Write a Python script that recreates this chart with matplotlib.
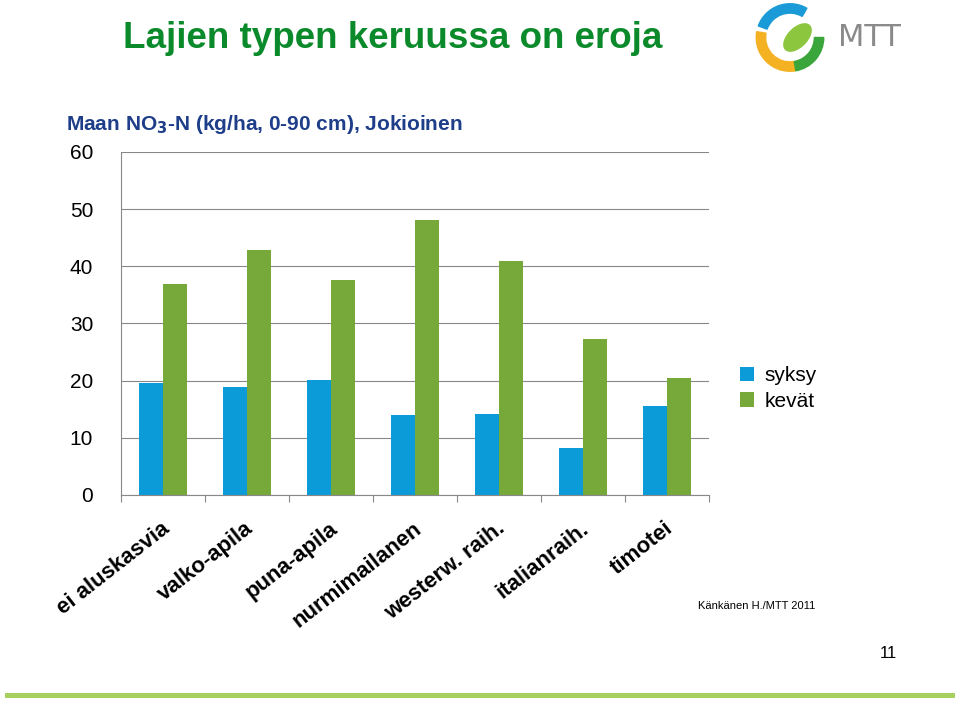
import matplotlib
matplotlib.use("Agg")
import matplotlib.pyplot as plt
from matplotlib.patches import Wedge, Ellipse
import numpy as np

categories = ["ei aluskasvia", "valko-apila", "puna-apila", "nurmimailanen",
              "westerw. raih.", "italianraih.", "timotei"]
syksy = [19.6, 18.9, 20.1, 14.0, 14.2, 8.2, 15.6]
kevat = [36.9, 42.9, 37.6, 48.1, 40.9, 27.3, 20.5]
yticks = [0, 10, 20, 30, 40, 50, 60]

W, H = 960, 701
fig = plt.figure(figsize=(W/100, H/100), dpi=100)
fig.patch.set_facecolor("white")
ax = fig.add_axes([121/W, 1-495/H, (709-121)/W, (495-152)/H])
x = np.arange(len(categories))
bw = 0.28
ax.bar(x - bw/2, syksy, bw, color="#0b9bd9", label="syksy")
ax.bar(x + bw/2, kevat, bw, color="#77a83a", label="kevät")
ax.set_xlim(-0.5, len(categories)-0.5)
ax.set_ylim(0, 60)
ax.set_yticks(yticks)
ax.set_yticklabels([str(t) for t in yticks], fontsize=15, fontfamily="Liberation Sans")
ax.yaxis.grid(True, color="#888888", lw=0.8)
ax.set_axisbelow(True)
for s in ["top", "right"]:
    ax.spines[s].set_visible(False)
ax.spines["left"].set_color("#888888")
ax.spines["bottom"].set_color("#888888")
ax.tick_params(axis="y", length=0, pad=20)
ax.set_xticks(np.arange(-0.5, len(categories), 1))
ax.set_xticklabels([])
ax.tick_params(axis="x", length=5, color="#888888", direction="out")
for i, c in enumerate(categories):
    ax.text(i - 0.03, -4, c, rotation=38, ha="right", va="top", fontsize=16,
            fontweight="bold", fontfamily="Liberation Sans", rotation_mode="anchor",
            transform=ax.transData)
ax.legend(loc="upper left", bbox_to_anchor=(1.02, 0.43), frameon=False,
          prop={"family": "Liberation Sans", "size": 15}, handlelength=0.7,
          handletextpad=0.5, labelspacing=0.3)

fig.text(123/W, 1-38/H, "Lajien typen keruussa on eroja", fontsize=26.5, fontweight="bold",
         color="#0a8a2a", va="center", fontfamily="Liberation Sans")
fig.text(66/W, 1-124/H, r"Maan NO$_\mathbf{3}$-N (kg/ha, 0-90 cm), Jokioinen", fontsize=15,
         fontweight="bold", color="#1f3e8a", va="center", fontfamily="Liberation Sans")
fig.text(698/W, 1-606/H, "Känkänen H./MTT 2011", fontsize=8, va="center", fontfamily="Liberation Sans")
fig.text(880/W, 1-653/H, "11", fontsize=12, va="center", fontfamily="Liberation Sans")

fig.add_artist(plt.Rectangle((5/W, 1-698/H), 950/W, 5/H, transform=fig.transFigure,
                             color="#a8d060", lw=0))
lax = fig.add_axes([750/W, 1-75/H, 80/W, 75/H])
lax.set_xlim(-1, 1); lax.set_ylim(-1, 1); lax.set_aspect("equal"); lax.axis("off")
lax.add_patch(Wedge((0, 0), 0.9, 60, 160, width=0.25, color="#1a9ad6"))
lax.add_patch(Wedge((0, 0), 0.9, 170, 280, width=0.25, color="#f4b223"))
lax.add_patch(Wedge((0, 0), 0.9, 280, 360, width=0.25, color="#3aa53a"))
lax.add_patch(Ellipse((0.2, 0.0), 0.9, 0.5, angle=45, color="#8cc63f"))
fig.text(838/W, 1-38/H, "MTT", fontsize=22, color="#8a8a8a", va="center", fontfamily="DejaVu Sans")

fig.savefig("out.png", dpi=100)
